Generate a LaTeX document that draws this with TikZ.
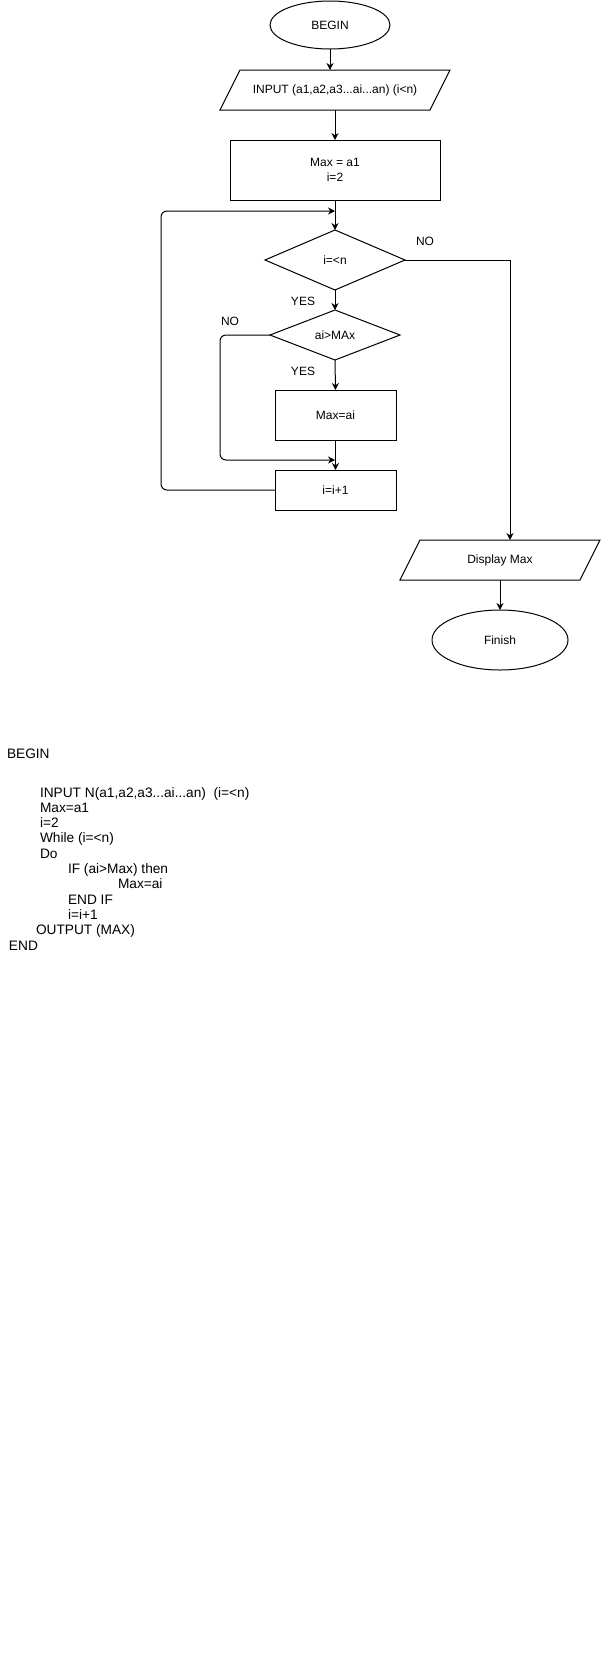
\documentclass[tikz,border=0pt]{standalone}
\usepackage{fontspec}
\setmainfont{Liberation Sans}
\usetikzlibrary{shapes.geometric,arrows.meta,calc}
\begin{document}
\begin{tikzpicture}[x=1pt,y=-1pt,
  every node/.style={inner sep=0pt,outer sep=0pt,font=\fontsize{12}{14}\selectfont},
  term/.style={draw,ellipse,line width=1pt},
  proc/.style={draw,rectangle,line width=1pt},
  iobox/.style={rectangle,minimum width=180pt,minimum height=40pt},
  dec/.style={draw,diamond,line width=1pt,aspect=2},
  lbl/.style={font=\fontsize{12}{14}\selectfont},
  code/.style={anchor=base west,font=\fontsize{13.7}{16}\selectfont},
  flow/.style={line width=1pt,-{Stealth[length=7pt,width=7pt]}},
  loop/.style={line width=1pt,rounded corners=6pt,-{Stealth[length=7pt,width=7pt]}}
]
\useasboundingbox (0,0) rectangle (601,1671);
\fill[white] (0,0) rectangle (601,1671);

% nodes
\node[term,minimum width=120pt,minimum height=48pt] (begin) at (330,25) {BEGIN};
\node[iobox,minimum width=210pt] (input) at (335,90) {INPUT (a1,a2,a3...ai...an) (i<n)};
\draw[line width=1pt] ($(input.north west)+(10,0)$) -- ($(input.north east)+(10,0)$)
  -- ($(input.south east)+(-10,0)$) -- ($(input.south west)+(-10,0)$) -- cycle;
\node[proc,minimum width=210pt,minimum height=60pt,align=center] (init) at (335,170) {Max = a1\\[1pt]i=2};
\node[dec,minimum width=140pt,minimum height=60pt] (d1) at (335,260) {i=<n};
\node[dec,minimum width=130pt,minimum height=50pt] (d2) at (335,335) {ai>MAx};
\node[proc,minimum width=121pt,minimum height=50pt] (maxai) at (335.5,415) {Max=ai};
\node[proc,minimum width=121pt,minimum height=40pt] (inc) at (335.5,490) {i=i+1};
\node[iobox,minimum width=180pt] (disp) at (500,560) {Display Max};
\draw[line width=1pt] ($(disp.north west)+(10,0)$) -- ($(disp.north east)+(10,0)$)
  -- ($(disp.south east)+(-10,0)$) -- ($(disp.south west)+(-10,0)$) -- cycle;
\node[term,minimum width=136pt,minimum height=60pt] (finish) at (500,640) {Finish};

% labels
\node[lbl] (no1) at (425,241) {NO};
\node[lbl] (yes1) at (303,301) {YES};
\node[lbl] (no2) at (230,321) {NO};
\node[lbl] (yes2) at (303,371) {YES};

% junction points
\coordinate (j1) at (335,211);
\coordinate (j2) at (335,460);
\coordinate (dtop) at ($(disp.north)+(10,0)$);

% connectors
\draw[flow] (begin.south) -- (begin.south |- input.north);
\draw[flow] (input.south -| init.north) -- (init.north);
\draw[flow] (init.south) -- (d1.north);
\draw[flow] (d1.south) -- (d2.north);
\draw[flow] (d2.south) -- (maxai.north);
\draw[flow] (maxai.south) -- (maxai.south |- inc.north);
\draw[flow] (d1.east) -| (dtop);
\draw[flow] (disp.south) -- (disp.south |- finish.north);
\draw[loop] (inc.west) -- (161,490) -- (161,211) -- (j1);
\draw[loop] (d2.west) -- (220,335) -- (220,460) -- (j2);

% pseudocode
\node[code] (p1) at (7,758) {BEGIN};
\node[code] (p2) at (40,797) {INPUT N(a1,a2,a3...ai...an)\ \ (i=<n)};
\node[code] (p3) at (40,812.3) {Max=a1};
\node[code] (p4) at (40,827.6) {i=2};
\node[code] (p5) at (40,842.9) {While (i=<n)};
\node[code] (p6) at (40,858.2) {Do};
\node[code] (p7) at (68,873.5) {IF (ai>Max) then};
\node[code] (p8) at (118,888.8) {Max=ai};
\node[code] (p9) at (68,904.1) {END IF};
\node[code] (p10) at (68,919.4) {i=i+1};
\node[code] (p11) at (36,934.7) {OUTPUT (MAX)};
\node[code] (p12) at (9,950) {END};
\end{tikzpicture}
\end{document}
